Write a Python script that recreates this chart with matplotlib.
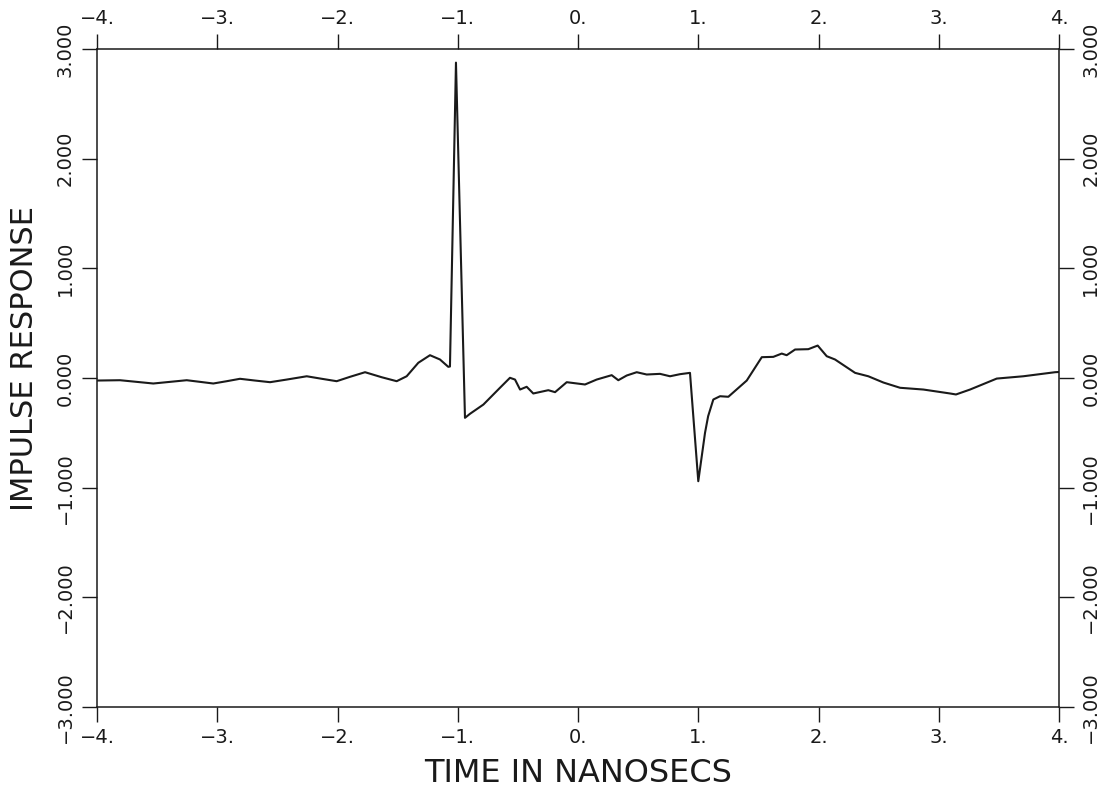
import matplotlib
matplotlib.use('Agg')
import matplotlib.pyplot as plt

# values
time_ns = [
    -4.000, -3.809, -3.670, -3.532, -3.393, -3.254, -3.143, -3.033, -2.921,
    -2.811, -2.686, -2.561, -2.422, -2.256, -2.131, -2.007, -1.896, -1.771,
    -1.632, -1.508, -1.425, -1.328, -1.231, -1.148, -1.079, -1.065, -1.015,
    -0.940, -0.898, -0.787, -0.649, -0.566, -0.524, -0.482, -0.427, -0.372,
    -0.247, -0.191, -0.094, 0.058, 0.155, 0.280, 0.335, 0.405, 0.488, 0.571,
    0.682, 0.765, 0.848, 0.931, 1.000, 1.056, 1.082, 1.125, 1.181, 1.250,
    1.403, 1.528, 1.624, 1.694, 1.735, 1.805, 1.915, 1.993, 2.068, 2.137,
    2.304, 2.414, 2.539, 2.678, 2.872, 3.094, 3.143, 3.260, 3.482, 3.703,
    3.967, 4.000,
]
response = [
    -0.023, -0.020, -0.035, -0.050, -0.035, -0.020, -0.035, -0.050, -0.029,
    -0.007, -0.023, -0.038, -0.014, 0.016, -0.007, -0.029, 0.011, 0.053,
    0.007, -0.029, 0.016, 0.139, 0.208, 0.169, 0.102, 0.105, 2.876,
    -0.363, -0.326, -0.242, -0.089, 0.002, -0.014, -0.105, -0.080, -0.141,
    -0.111, -0.129, -0.038, -0.059, -0.014, 0.026, -0.020, 0.023, 0.053, 0.032,
    0.038, 0.016, 0.035, 0.047, -0.941, -0.500, -0.348, -0.196, -0.166, -0.171,
    -0.023, 0.190, 0.193, 0.223, 0.208, 0.260, 0.263, 0.296, 0.199, 0.169,
    0.047, 0.016, -0.041, -0.089, -0.105, -0.141, -0.150, -0.105, -0.005, 0.016,
    0.053, 0.055,
]

x_ticks = [-4, -3, -2, -1, 0, 1, 2, 3, 4]
x_labels = ['\u22124.', '\u22123.', '\u22122.', '\u22121.', '0.', '1.', '2.', '3.', '4.']
y_ticks = [-3, -2, -1, 0, 1, 2, 3]
y_labels = ['\u22123.000', '\u22122.000', '\u22121.000', '0.000', '1.000', '2.000', '3.000']

ink = '#1a1a1a'
plt.rcParams['font.family'] = ['DejaVu Sans']

fig = plt.figure(figsize=(11.01, 7.92), dpi=100)
ax = fig.add_axes([0.0881, 0.1073, 0.8738, 0.8308])

ax.plot(time_ns, response, color=ink, linewidth=1.5)

ax.set_xlim(-4, 4)
ax.set_ylim(-3, 3)
ax.set_xticks(x_ticks)
ax.set_xticklabels(x_labels)
ax.set_yticks(y_ticks)
ax.set_yticklabels(y_labels)

for side in ax.spines.values():
    side.set_linewidth(1.1)
    side.set_color(ink)

ax.tick_params(which='both', direction='out', length=11, width=1.0,
               colors=ink, labelsize=14, top=True, right=True,
               labeltop=True, labelright=True)
ax.tick_params(axis='x', pad=4)
ax.tick_params(axis='y', labelrotation=90, pad=5)
for tk in ax.yaxis.get_major_ticks():
    tk.label1.set_va('center')
    tk.label2.set_va('center')

ax.set_xlabel('TIME IN NANOSECS', fontsize=23, color=ink, labelpad=8)
ax.set_ylabel('IMPULSE RESPONSE', fontsize=22, color=ink)
ax.yaxis.set_label_coords(-0.06, 0.53)

fig.savefig('out.png', dpi=100)
